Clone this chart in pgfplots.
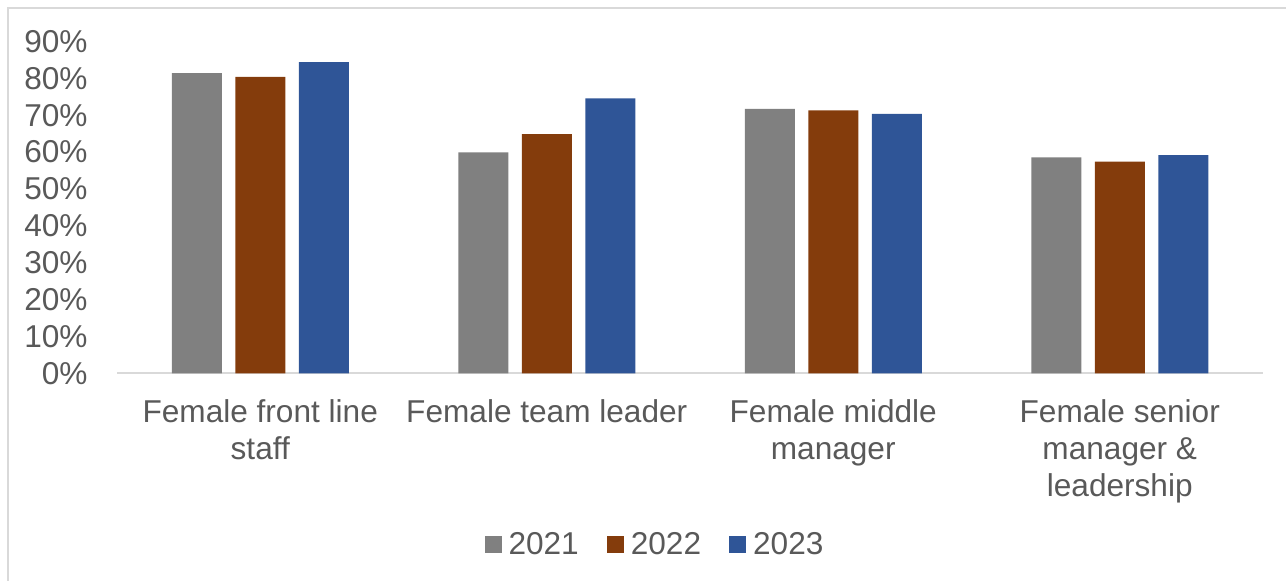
\documentclass[border=0pt]{standalone}
\usepackage{fontspec}
\setmainfont{Liberation Sans}
\usepackage{pgfplots}
\pgfplotsset{compat=1.18}
\definecolor{txt}{HTML}{595959}
\definecolor{axl}{HTML}{D9D9D9}
\definecolor{cA}{HTML}{808080}
\definecolor{cB}{HTML}{843C0C}
\definecolor{cC}{HTML}{2F5597}
\begin{document}
\begin{tikzpicture}
\useasboundingbox (0pt,0pt) rectangle (643pt,290.5pt);
\draw[axl, line width=1pt] (4pt,0pt) -- (4pt,286.5pt) -- (643pt,286.5pt);
\begin{axis}[
  at={(58.5pt,103.85pt)}, anchor=south west,
  scale only axis, width=573pt, height=165.9pt,
  xmin=-0.5, xmax=3.5, ymin=0, ymax=90,
  ybar=6.75pt, bar width=25pt,
  axis lines*=left,
  axis line style={axl, line width=1pt},
  y axis line style={draw=none},
  major tick length=0pt,
  xtick={0,1,2,3},
  xticklabels={Female front line\\staff, Female team leader, Female middle\\manager, Female senior\\manager \&\\leadership},
  ytick={0,10,...,90},
  yticklabels={0\%,10\%,20\%,30\%,40\%,50\%,60\%,70\%,80\%,90\%},
  tick label style={font=\fontsize{15.8}{18.5}\selectfont, text=txt},
  yticklabel style={inner sep=0pt, xshift=-14.5pt},
  xticklabel style={inner sep=0pt, anchor=north, yshift=-13pt, align=center},
  legend style={at={(0.4703,-0.5175)}, anchor=center, draw=none, legend columns=3,
    font=\fontsize{15.8}{18.5}\selectfont, text=txt,
    /tikz/every even column/.append style={column sep=12pt}},
  legend image code/.code={\fill[#1] (0pt,-4.25pt) rectangle (8.5pt,4.25pt);},
  legend cell align=left,
  clip=false,
]
\addplot[fill=cA, draw=none] coordinates {(0,81.4) (1,59.9) (2,71.7) (3,58.6)};
\addlegendentry{\hspace{1.5pt}2021}
\addplot[fill=cB, draw=none] coordinates {(0,80.4) (1,64.9) (2,71.3) (3,57.4)};
\addlegendentry{\hspace{1.5pt}2022}
\addplot[fill=cC, draw=none] coordinates {(0,84.4) (1,74.6) (2,70.4) (3,59.2)};
\addlegendentry{\hspace{1.5pt}2023}
\end{axis}
\end{tikzpicture}
\end{document}
